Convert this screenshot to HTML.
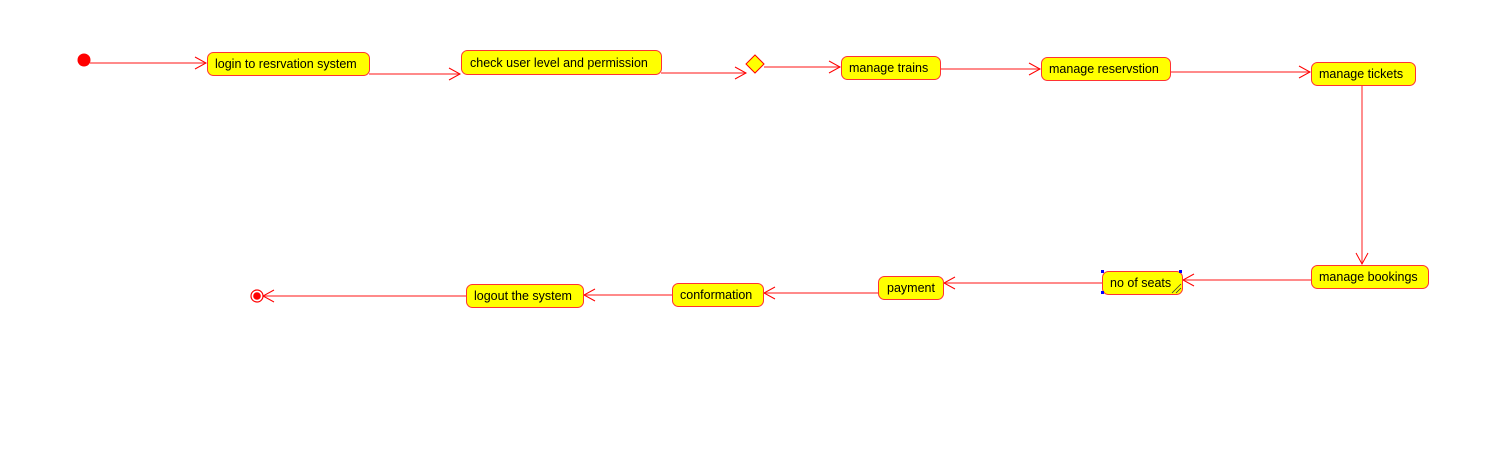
<!DOCTYPE html>
<html><head><style>
body{margin:0;background:#fff;width:1503px;height:447px;overflow:hidden}
svg text{font-family:"Liberation Sans",Arial,sans-serif;font-size:12.5px;fill:#000}
</style></head><body>
<svg width="1503" height="447" xmlns="http://www.w3.org/2000/svg">
<defs><marker id="a" markerWidth="14" markerHeight="14" refX="12" refY="7" orient="auto" markerUnits="userSpaceOnUse"><path d="M1,1 L12,7 L1,13" fill="none" stroke="#f00" stroke-width="1"/></marker></defs>
<g stroke="#f44" stroke-width="1.2" fill="none" marker-end="url(#a)">
<line x1="90" y1="63" x2="206" y2="63"/>
<line x1="369" y1="74" x2="460" y2="74"/>
<line x1="661" y1="73" x2="746" y2="73"/>
<line x1="764" y1="67" x2="840" y2="67"/>
<line x1="940" y1="69" x2="1040" y2="69"/>
<line x1="1170" y1="72" x2="1310" y2="72"/>
<line x1="1362" y1="85" x2="1362" y2="264"/>
<line x1="1311" y1="280" x2="1183" y2="280"/>
<line x1="1102" y1="283" x2="944" y2="283"/>
<line x1="878" y1="293" x2="764" y2="293"/>
<line x1="672" y1="295" x2="584" y2="295"/>
<line x1="466" y1="296" x2="263" y2="296"/>
</g>
<circle cx="84" cy="60" r="6.5" fill="#f00"/>
<circle cx="257" cy="296" r="6" fill="#fff" stroke="#f00" stroke-width="1.2"/>
<circle cx="257" cy="296" r="3.8" fill="#f00"/>
<polygon points="755,55 764,64 755,73 746,64" fill="#ff0" stroke="#f00" stroke-width="1"/>
<g fill="#ff0" stroke="#f33" stroke-width="1">
<rect x="207.5" y="52.5" width="162" height="23" rx="6"/>
<rect x="461.5" y="50.5" width="200" height="24" rx="6"/>
<rect x="841.5" y="56.5" width="99" height="23" rx="6"/>
<rect x="1041.5" y="57.5" width="129" height="23" rx="6"/>
<rect x="1311.5" y="62.5" width="104" height="23" rx="6"/>
<rect x="1311.5" y="265.5" width="117" height="23" rx="6"/>
<rect x="1102.5" y="271.5" width="80" height="23" rx="6"/>
<rect x="878.5" y="276.5" width="65" height="23" rx="6"/>
<rect x="672.5" y="283.5" width="91" height="23" rx="6"/>
<rect x="466.5" y="284.5" width="117" height="23" rx="6"/>
</g>
<g fill="#00f"><rect x="1101" y="270" width="3" height="3"/><rect x="1179" y="270" width="3" height="3"/><rect x="1101" y="291" width="3" height="3"/></g>
<g stroke="#333" stroke-width="0.8"><line x1="1172" y1="293" x2="1181" y2="284"/><line x1="1176" y1="293" x2="1181" y2="288"/></g>
<text x="215" y="68">login to resrvation system</text>
<text x="470" y="67">check user level and permission</text>
<text x="849" y="72">manage trains</text>
<text x="1049" y="73">manage reservstion</text>
<text x="1319" y="78">manage tickets</text>
<text x="1319" y="281">manage bookings</text>
<text x="1110" y="287">no of seats</text>
<text x="887" y="292">payment</text>
<text x="680" y="299">conformation</text>
<text x="474" y="300">logout the system</text>
</svg>
</body></html>
